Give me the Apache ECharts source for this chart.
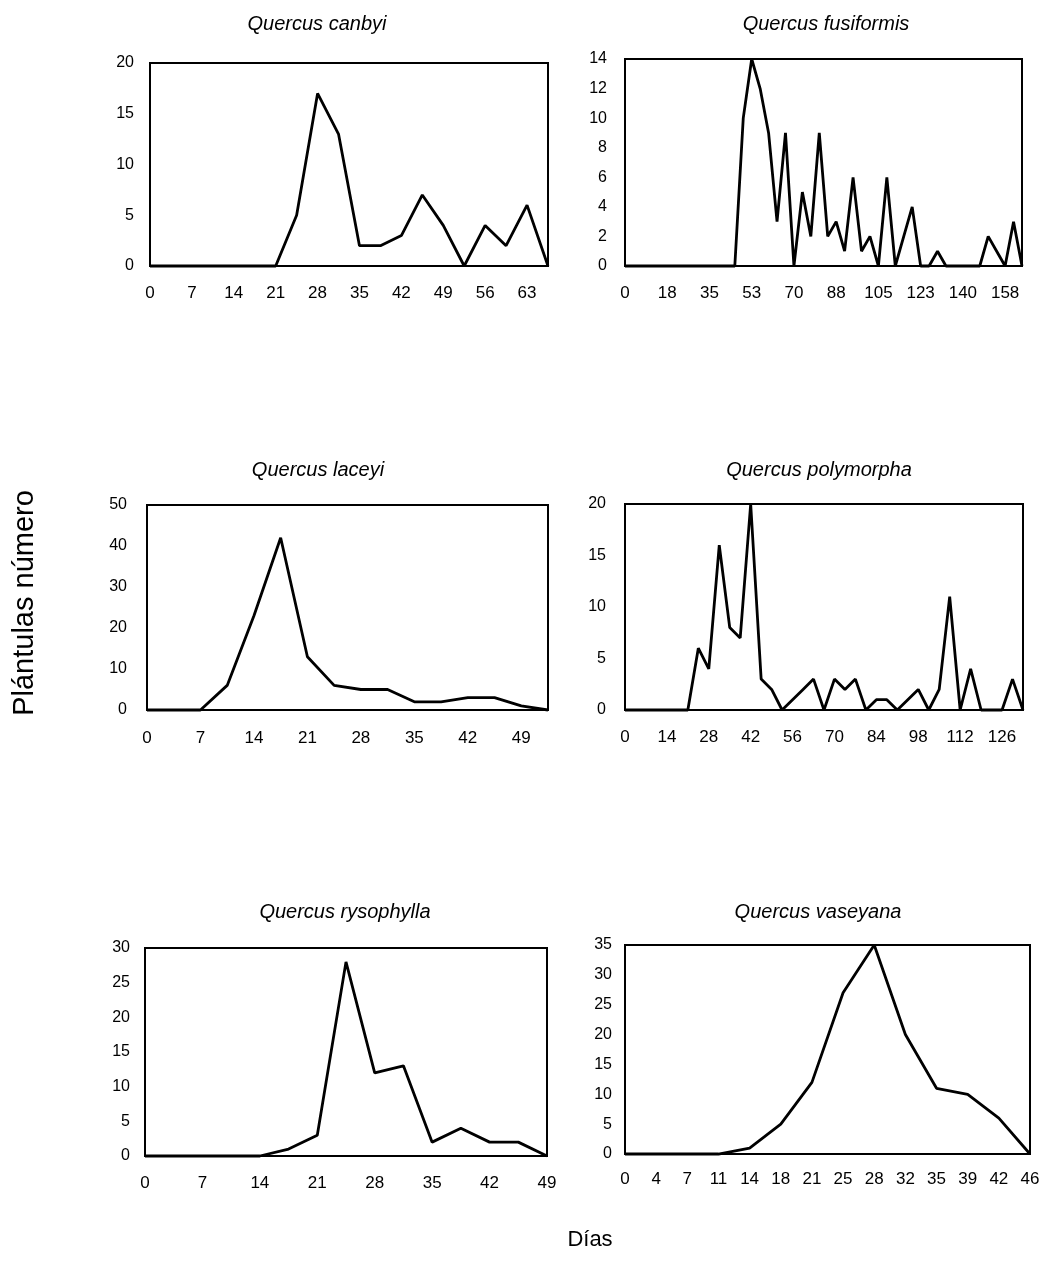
<!DOCTYPE html>
<html>
<head>
<meta charset="utf-8">
<script src="https://cdn.jsdelivr.net/npm/echarts@6/dist/echarts.min.js"></script>
<style>
html,body{margin:0;padding:0;background:#fff;}
#c{width:1045px;height:1283px;}
</style>
</head>
<body>
<div id="c"></div>
<script>
// ---- Data (days since sowing, every 3.5 days; seedlings count) ----
const titles = ["Quercus canbyi","Quercus fusiformis","Quercus laceyi","Quercus polymorpha","Quercus rysophylla","Quercus vaseyana"];

const canbyiDays = ["0","4","7","11","14","18","21","25","28","32","35","39","42","46","49","53","56","60","63","67"];
const canbyiVals = [0,0,0,0,0,0,0,5,17,13,2,2,3,7,4,0,4,2,6,0];

const fusiformisDays = ["0","4","7","11","14","18","21","25","28","32","35","39","42","46","49","53","56","60","63","67","70","74","77","81","84","88","91","95","98","102","105","109","112","116","119","123","126","130","133","137","140","144","147","151","154","158","161","165"];
const fusiformisVals = [0,0,0,0,0,0,0,0,0,0,0,0,0,0,10,14,12,9,3,9,0,5,2,9,2,3,1,6,1,2,0,6,0,2,4,0,0,1,0,0,0,0,0,2,1,0,3,0];

const laceyiDays = ["0","4","7","11","14","18","21","25","28","32","35","39","42","46","49","53"];
const laceyiVals = [0,0,0,6,23,42,13,6,5,5,2,2,3,3,1,0];

const polymorphaDays = ["0","4","7","11","14","18","21","25","28","32","35","39","42","46","49","53","56","60","63","67","70","74","77","81","84","88","91","95","98","102","105","109","112","116","119","123","126","130","133"];
const polymorphaVals = [0,0,0,0,0,0,0,6,4,16,8,7,20,3,2,0,1,2,3,0,3,2,3,0,1,1,0,1,2,0,2,11,0,4,0,0,0,3,0];

const rysophyllaDays = ["0","4","7","11","14","18","21","25","28","32","35","39","42","46","49"];
const rysophyllaVals = [0,0,0,0,0,1,3,28,12,13,2,4,2,2,0];

const vaseyanaDays = ["0","4","7","11","14","18","21","25","28","32","35","39","42","46"];
const vaseyanaVals = [0,0,0,0,1,5,12,27,35,20,11,10,6,0];

const yMax = [20,14,50,20,30,35];
const yStep = [5,2,10,5,5,5];
const labelEvery = [1,4,1,3,1,0];

const yAxisTitle = "Plántulas número";
const xAxisTitle = "Días";

// ---- Layout ----
const FONT = '"Liberation Sans", Arial, Helvetica, sans-serif';
const grids = [
  {left:150, top:63,  width:398, height:203},
  {left:625, top:59,  width:397, height:207},
  {left:147, top:505, width:401, height:205},
  {left:625, top:504, width:398, height:206},
  {left:145, top:948, width:402, height:208},
  {left:625, top:945, width:405, height:209}
];
const yLabelMargin = [16,18,20,19,15,13];
const xLabelMargin = [19,19,20,19,19,17];
const titlePos = [[317,24],[826,24],[318,470],[819,470],[345,912],[818,912]];

const cats = [canbyiDays,fusiformisDays,laceyiDays,polymorphaDays,rysophyllaDays,vaseyanaDays];
const vals = [canbyiVals,fusiformisVals,laceyiVals,polymorphaVals,rysophyllaVals,vaseyanaVals];

const chart = echarts.init(document.getElementById('c'), null, {renderer:'canvas'});

const option = {
  animation:false,
  backgroundColor:'#fff',
  grid: grids.map(g => Object.assign({show:true, borderColor:'#000', borderWidth:2, backgroundColor:'transparent', containLabel:false}, g)),
  xAxis: cats.map((c,i) => ({
    type:'category', gridIndex:i, data:c, boundaryGap:false,
    axisLine:{show:false}, axisTick:{show:false}, splitLine:{show:false},
    axisLabel:{interval:labelEvery[i], margin:xLabelMargin[i], fontSize:17, color:'#000', fontFamily:FONT}
  })),
  yAxis: vals.map((v,i) => ({
    type:'value', gridIndex:i, min:0, max:yMax[i], interval:yStep[i],
    axisLine:{show:false}, axisTick:{show:false}, splitLine:{show:false},
    axisLabel:{margin:yLabelMargin[i], fontSize:16, color:'#000', fontFamily:FONT}
  })),
  series: vals.map((v,i) => ({
    type:'line', xAxisIndex:i, yAxisIndex:i, data:v,
    symbol:'none', showSymbol:false, clip:false,
    lineStyle:{color:'#000', width:2.8}
  })),
  graphic: titles.map((t,i) => ({
    type:'text', x:titlePos[i][0], y:titlePos[i][1],
    style:{text:t, fill:'#000', font:'italic 20px ' + FONT, align:'center', verticalAlign:'middle', textAlign:'center', textVerticalAlign:'middle'}
  })).concat([
    {type:'text', x:25, y:603, rotation:Math.PI/2,
     style:{text:yAxisTitle, fill:'#000', font:'29px ' + FONT, align:'center', verticalAlign:'middle', textAlign:'center', textVerticalAlign:'middle'}},
    {type:'text', x:590, y:1240,
     style:{text:xAxisTitle, fill:'#000', font:'22px ' + FONT, align:'center', verticalAlign:'middle', textAlign:'center', textVerticalAlign:'middle'}}
  ])
};
chart.setOption(option);
</script>
</body>
</html>
